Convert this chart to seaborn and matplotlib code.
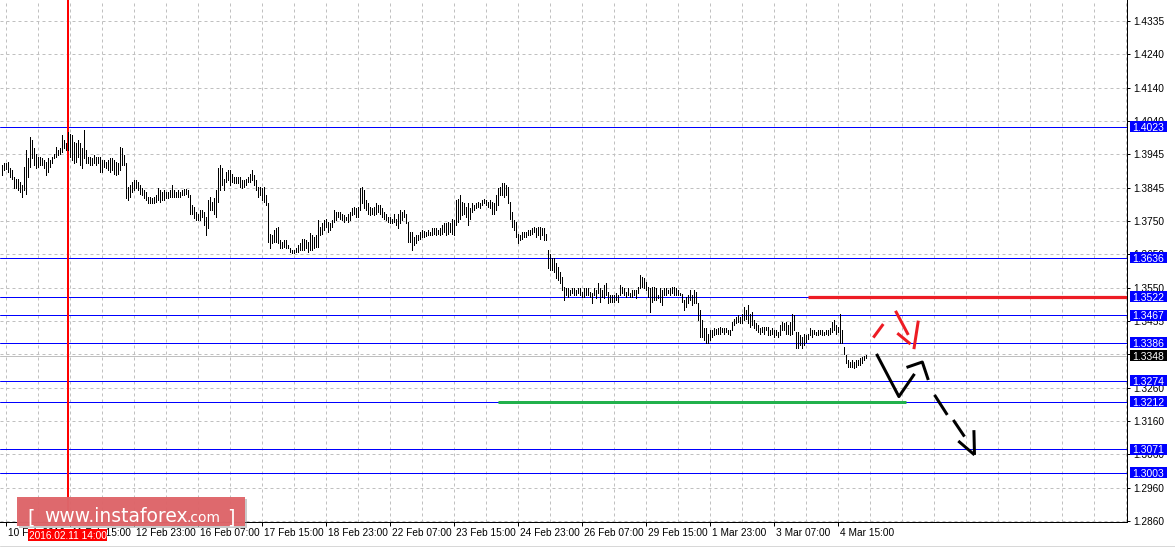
import numpy as np
import pandas as pd
import matplotlib
matplotlib.use("Agg")
import matplotlib.pyplot as plt
import matplotlib.transforms as mtransforms
from matplotlib.patches import Rectangle
from matplotlib.lines import Line2D
import seaborn as sns

# ---------------- data (H1 bars, prices in 1e-4 units) ----------------
bar_high = [
    13910, 13917, 13915, 13918, 13900, 13895, 13875, 13870, 13870, 13861,
    13851, 13905, 13954, 13930, 13993, 13984, 13959, 13944, 13934, 13934,
    13930, 13925, 13920, 13930, 13925, 13934, 13944, 13964, 13954, 13959,
    13998, 13984, 13974, 14008, 14003, 13998, 13979, 13974, 13984, 13974,
    13959, 14013, 13954, 13934, 13934, 13930, 13939, 13934, 13934, 13934,
    13925, 13925, 13920, 13925, 13930, 13930, 13925, 13920, 13915, 13964,
    13959, 13939, 13915, 13846, 13851, 13861, 13866, 13866, 13861, 13851,
    13841, 13836, 13831, 13816, 13816, 13812, 13816, 13821, 13841, 13836,
    13831, 13836, 13831, 13831, 13836, 13851, 13836, 13831, 13836, 13831,
    13836, 13838, 13838, 13836, 13821, 13792, 13787, 13772, 13767, 13777,
    13777, 13772, 13757, 13807, 13816, 13802, 13812, 13836, 13900, 13910,
    13900, 13870, 13890, 13895, 13895, 13885, 13875, 13875, 13875, 13875,
    13866, 13866, 13870, 13875, 13885, 13895, 13880, 13866, 13846, 13846,
    13841, 13846, 13821, 13797, 13708, 13703, 13718, 13723, 13728, 13689,
    13684, 13689, 13689, 13674, 13664, 13659, 13659, 13664, 13674, 13679,
    13693, 13693, 13689, 13684, 13710, 13703, 13698, 13703, 13748, 13728,
    13738, 13748, 13750, 13743, 13738, 13748, 13777, 13772, 13772, 13772,
    13767, 13762, 13757, 13767, 13772, 13782, 13787, 13782, 13785, 13841,
    13846, 13836, 13807, 13797, 13787, 13782, 13787, 13797, 13792, 13792,
    13782, 13772, 13767, 13757, 13757, 13752, 13767, 13752, 13767, 13777,
    13772, 13777, 13767, 13743, 13713, 13713, 13698, 13703, 13703, 13713,
    13718, 13716, 13713, 13718, 13713, 13723, 13723, 13723, 13718, 13723,
    13733, 13738, 13738, 13743, 13738, 13752, 13748, 13807, 13811, 13821,
    13802, 13797, 13787, 13797, 13782, 13797, 13792, 13797, 13802, 13797,
    13807, 13811, 13807, 13802, 13807, 13802, 13797, 13821, 13841, 13846,
    13856, 13856, 13851, 13846, 13802, 13772, 13748, 13743, 13708, 13703,
    13713, 13713, 13713, 13718, 13718, 13723, 13728, 13723, 13728, 13728,
    13723, 13723, 13708, 13659, 13649, 13635, 13635, 13620, 13610, 13595,
    13581, 13551, 13547, 13547, 13542, 13547, 13547, 13542, 13547, 13547,
    13537, 13547, 13547, 13547, 13537, 13532, 13547, 13542, 13561, 13547,
    13542, 13556, 13561, 13537, 13527, 13527, 13527, 13532, 13527, 13556,
    13551, 13547, 13537, 13547, 13532, 13542, 13542, 13542, 13551, 13586,
    13581, 13576, 13566, 13551, 13547, 13551, 13551, 13547, 13527, 13547,
    13542, 13547, 13547, 13542, 13547, 13549, 13551, 13547, 13542, 13532,
    13531, 13512, 13521, 13526, 13541, 13526, 13541, 13536, 13502, 13482,
    13453, 13428, 13428, 13413, 13423, 13423, 13428, 13425, 13428, 13431,
    13428, 13428, 13428, 13423, 13423, 13448, 13457, 13462, 13467, 13462,
    13472, 13492, 13482, 13497, 13472, 13477, 13453, 13443, 13438, 13428,
    13433, 13433, 13433, 13433, 13423, 13428, 13423, 13423, 13418, 13438,
    13448, 13443, 13448, 13438, 13448, 13472, 13467, 13418, 13418, 13408,
    13403, 13413, 13408, 13413, 13428, 13423, 13423, 13418, 13423, 13423,
    13423, 13418, 13423, 13423, 13428, 13448, 13453, 13438, 13433, 13472,
    13423, 13374, 13349, 13335, 13330, 13335, 13330, 13335, 13335, 13340,
    13344, 13346, 13349,
]
bar_low = [
    13882, 13895, 13897, 13890, 13875, 13870, 13841, 13841, 13836, 13831,
    13816, 13836, 13826, 13875, 13905, 13930, 13910, 13900, 13905, 13910,
    13910, 13900, 13880, 13890, 13905, 13915, 13930, 13934, 13939, 13944,
    13949, 13959, 13954, 13954, 13934, 13925, 13915, 13920, 13934, 13910,
    13900, 13930, 13915, 13915, 13910, 13910, 13915, 13910, 13915, 13890,
    13890, 13905, 13900, 13895, 13890, 13895, 13885, 13880, 13885, 13895,
    13910, 13910, 13812, 13807, 13816, 13831, 13836, 13841, 13836, 13826,
    13821, 13812, 13807, 13797, 13797, 13797, 13797, 13802, 13807, 13802,
    13807, 13807, 13812, 13812, 13816, 13816, 13816, 13816, 13816, 13816,
    13821, 13821, 13826, 13816, 13767, 13767, 13753, 13748, 13748, 13748,
    13757, 13733, 13703, 13723, 13777, 13777, 13767, 13757, 13802, 13836,
    13851, 13836, 13861, 13866, 13851, 13861, 13856, 13856, 13856, 13846,
    13841, 13846, 13851, 13861, 13861, 13866, 13851, 13836, 13816, 13821,
    13807, 13802, 13792, 13684, 13664, 13679, 13684, 13684, 13679, 13664,
    13664, 13669, 13664, 13664, 13654, 13651, 13651, 13654, 13654, 13659,
    13659, 13659, 13664, 13654, 13659, 13659, 13664, 13669, 13669, 13703,
    13708, 13718, 13728, 13713, 13718, 13728, 13743, 13748, 13757, 13752,
    13748, 13743, 13748, 13743, 13748, 13762, 13767, 13757, 13757, 13777,
    13797, 13782, 13777, 13767, 13762, 13767, 13762, 13767, 13772, 13767,
    13757, 13752, 13748, 13743, 13738, 13738, 13743, 13733, 13723, 13738,
    13748, 13757, 13738, 13684, 13684, 13659, 13674, 13679, 13689, 13693,
    13698, 13698, 13700, 13703, 13703, 13703, 13708, 13703, 13708, 13703,
    13708, 13713, 13703, 13708, 13713, 13708, 13703, 13733, 13743, 13752,
    13762, 13767, 13757, 13733, 13752, 13772, 13777, 13782, 13787, 13782,
    13792, 13797, 13792, 13787, 13782, 13767, 13767, 13777, 13792, 13821,
    13821, 13816, 13821, 13797, 13752, 13728, 13718, 13698, 13679, 13689,
    13693, 13698, 13698, 13703, 13703, 13708, 13713, 13698, 13703, 13693,
    13703, 13689, 13689, 13605, 13600, 13600, 13595, 13576, 13571, 13561,
    13542, 13512, 13527, 13522, 13527, 13532, 13527, 13527, 13532, 13527,
    13522, 13522, 13527, 13527, 13522, 13502, 13527, 13517, 13532, 13507,
    13522, 13517, 13527, 13502, 13507, 13507, 13507, 13512, 13507, 13527,
    13532, 13527, 13522, 13527, 13522, 13522, 13527, 13517, 13532, 13547,
    13551, 13547, 13542, 13522, 13478, 13507, 13512, 13512, 13517, 13507,
    13497, 13527, 13527, 13532, 13527, 13532, 13527, 13527, 13527, 13527,
    13507, 13482, 13492, 13502, 13512, 13497, 13502, 13502, 13453, 13403,
    13403, 13394, 13384, 13384, 13394, 13403, 13408, 13413, 13413, 13413,
    13418, 13413, 13418, 13413, 13408, 13423, 13438, 13443, 13448, 13443,
    13443, 13453, 13457, 13443, 13433, 13438, 13428, 13423, 13418, 13413,
    13418, 13413, 13423, 13408, 13408, 13413, 13403, 13408, 13403, 13408,
    13423, 13423, 13413, 13413, 13408, 13413, 13423, 13369, 13369, 13379,
    13369, 13379, 13389, 13398, 13408, 13403, 13413, 13408, 13408, 13413,
    13408, 13408, 13413, 13408, 13413, 13418, 13423, 13413, 13418, 13384,
    13384, 13354, 13325, 13315, 13313, 13315, 13310, 13315, 13320, 13320,
    13327, 13335, 13340,
]

level_prices = [1.4023, 1.3636, 1.3522, 1.3467, 1.3386, 1.3274, 1.3212, 1.3071, 1.3003]
current_price = 1.3348
resistance_price = 1.3522
resistance_from_bar = 403
support_price = 1.3212
support_bars = [248, 452]
marker_bar = 33.25
marker_label = "2016.02.11 14:00"

price_tick_labels = ["1.2860", "1.2960", "1.3060", "1.3160", "1.3260", "1.3360",
                     "1.3455", "1.3550", "1.3650", "1.3750", "1.3845", "1.3945",
                     "1.4040", "1.4140", "1.4240", "1.4335"]
time_labels = ["10 Feb 2016", "11 Feb 15:00", "12 Feb 23:00", "16 Feb 07:00",
               "17 Feb 15:00", "18 Feb 23:00", "22 Feb 07:00", "23 Feb 15:00",
               "24 Feb 23:00", "26 Feb 07:00", "29 Feb 15:00", "1 Mar 23:00",
               "3 Mar 07:00", "4 Mar 15:00"]

# hand-drawn forecast strokes: (bar, price)
red_strokes = [
    [(435.9, 1.3401), (440.9, 1.3441)],
    [(447.0, 1.3480), (453.4, 1.3409)],
    [(447.9, 1.3414), (454.5, 1.3382)],
    [(458.4, 1.3451), (456.2, 1.3367)],
]
black_strokes = [
    [(437.5, 1.3353), (448.7, 1.3227), (456.5, 1.3294)],
    [(452.5, 1.3313), (460.4, 1.3329), (463.4, 1.3276)],
    [(466.5, 1.3232), (472.9, 1.3173)],
    [(475.9, 1.3158), (481.5, 1.3109)],
    [(478.4, 1.3096), (486.5, 1.3055)],
    [(486.2, 1.3128), (486.5, 1.3055)],
]

# ---------------- figure ----------------
W, H = 1175, 548
sns.set_theme(style="white")
plt.rcParams["font.family"] = ["Liberation Sans", "DejaVu Sans"]

fig = plt.figure(figsize=(W / 100, H / 100), dpi=100)
fig.patch.set_facecolor("white")
ax_left, ax_right, ax_top, ax_bottom = 0, 1127, 0, 522
ax = fig.add_axes([ax_left / W, (H - ax_bottom) / H, (ax_right - ax_left) / W, (ax_bottom - ax_top) / H])
ax.set_facecolor("white")

px = 1 / 3389.8  # price per pixel
ax.set_ylim(1.2860 - 1 * px, 1.4335 + 21 * px)
ax.set_xlim(-0.75, 562.75)

PX = 72 / 100  # one pixel in points

# grid
price_ticks = np.linspace(1.2860, 1.4335, len(price_tick_labels))
grid_x = np.arange(2.25, 563, 16)
ax.set_yticks(price_ticks)
ax.set_yticklabels(price_tick_labels)
ax.set_xticks(grid_x[::2][:len(time_labels)])
ax.set_xticklabels(time_labels)
ax.set_xticks(np.concatenate([grid_x[1::2], grid_x[::2][len(time_labels):]]), minor=True)
ax.grid(True, which="both", color="#c0c0c0", linestyle=(0, (3, 3)), linewidth=PX)
ax.set_axisbelow(True)

ax.yaxis.tick_right()
ax.tick_params(axis="y", which="major", direction="out", length=3 * PX, width=PX, pad=2,
               labelsize=7.3, colors="black", right=True, left=False)
ax.tick_params(axis="x", which="major", direction="out", length=4 * PX, width=PX, pad=1.5,
               labelsize=7.3, colors="black", bottom=True)
ax.tick_params(axis="x", which="minor", length=0)
off = mtransforms.ScaledTranslation(1.5 / 100, 0, fig.dpi_scale_trans)
for lbl in ax.get_xticklabels():
    lbl.set_horizontalalignment("left")
    lbl.set_transform(lbl.get_transform() + off)

for s in ["left", "top"]:
    ax.spines[s].set_visible(False)
for s in ["right", "bottom"]:
    ax.spines[s].set_visible(True)
    ax.spines[s].set_color("black")
    ax.spines[s].set_linewidth(PX)

# levels
for lv in level_prices:
    ax.axhline(lv, color="#0000ff", lw=PX, zorder=2)
ax.axhline(current_price, color="#c0c0c0", lw=PX, zorder=2)
ax.axvline(marker_bar, color="#ff0000", lw=2 * PX, antialiased=False, zorder=2.5)

# price bars
highs = np.array(bar_high) / 1e4
lows = np.array(bar_low) / 1e4
idx = np.arange(len(highs))
ax.vlines(idx, lows, highs, color="black", lw=PX, antialiased=False, zorder=3)

# resistance / support zones
ax.hlines(resistance_price, resistance_from_bar, 563.0, color="#ed1c24", lw=3.2 * PX, zorder=4)
ax.hlines(support_price, support_bars[0], support_bars[1], color="#22b14c", lw=3.0 * PX, zorder=4)

# forecast strokes via seaborn
rows = []
for k, stroke in enumerate(red_strokes):
    for (b, p) in stroke:
        rows.append({"bar": b, "price": p, "stroke": f"r{k}", "pen": "red"})
for k, stroke in enumerate(black_strokes):
    for (b, p) in stroke:
        rows.append({"bar": b, "price": p, "stroke": f"b{k}", "pen": "black"})
strokes = pd.DataFrame(rows)
sns.lineplot(data=strokes, x="bar", y="price", units="stroke", estimator=None, sort=False,
             hue="pen", palette={"red": "#ed1c24", "black": "black"}, lw=3.0 * PX,
             legend=False, ax=ax, zorder=6, solid_capstyle="butt")
ax.set_xlabel("")
ax.set_ylabel("")

# right-axis value boxes
bt = mtransforms.blended_transform_factory(ax.transAxes, ax.transData)
bx0 = 1130 / 1127
bw = 37 / 1127
bh = 11 * px
for lv, fc in [(p, "#0000ff") for p in level_prices] + [(current_price, "black")]:
    ax.add_patch(Rectangle((bx0, lv - bh / 2), bw, bh, transform=bt, clip_on=False,
                           facecolor=fc, edgecolor="none", zorder=8))
    ax.text(bx0 + bw / 2, lv, f"{lv:.4f}", transform=bt, clip_on=False, color="white",
            fontsize=7.5, ha="center", va="center_baseline", zorder=9)

# figure-level decorations (pixel coordinates from top-left)
def fx(x):
    return x / W

def fy(y):
    return 1 - y / H

fig.add_artist(Line2D([0, 1], [fy(545.5), fy(545.5)], color="#d8d8d8", lw=PX, zorder=1))

# watermark
fig.add_artist(Rectangle((fx(19), fy(528)), 228 / W, 29 / H, facecolor="#8a8a8a",
                         alpha=0.45, edgecolor="none", zorder=10))
fig.add_artist(Rectangle((fx(17), fy(526)), 228 / W, 29 / H, facecolor="#df6569",
                         alpha=0.96, edgecolor="none", zorder=11))
fig.text(fx(27), fy(523), "[", color="white", fontsize=14, family="DejaVu Sans",
         ha="left", va="baseline", zorder=12)
fig.text(fx(44), fy(521.5), "www.instaforex", color="white", fontsize=13.5,
         family="DejaVu Sans", ha="left", va="baseline", zorder=12)
fig.text(fx(186), fy(521.5), ".com", color="white", fontsize=10, family="DejaVu Sans",
         ha="left", va="baseline", zorder=12)
fig.text(fx(227), fy(523), "]", color="white", fontsize=14, family="DejaVu Sans",
         ha="left", va="baseline", zorder=12)

# time marker label
fig.add_artist(Rectangle((fx(28), fy(541)), 79 / W, 12 / H, facecolor="#ff0000",
                         edgecolor="none", zorder=13))
fig.text(fx(67.5), fy(535), marker_label, color="white", fontsize=7.3, ha="center",
         va="center_baseline", zorder=14)

fig.savefig("out.png", dpi=100, facecolor="white")
